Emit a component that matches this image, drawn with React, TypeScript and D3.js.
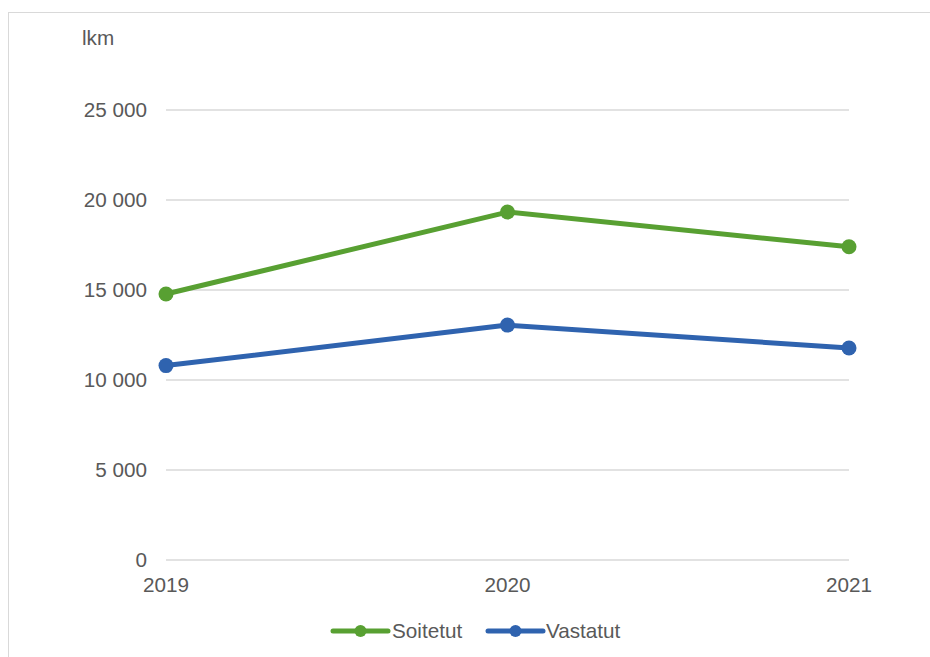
import React from "react";
import * as d3 from "d3";

const years = ["2019", "2020", "2021"];
const soitetut = [14780, 19330, 17400];
const vastatut = [10800, 13050, 11780];
const yTicks = [0, 5000, 10000, 15000, 20000, 25000];
const seriesNames = ["Soitetut", "Vastatut"];
const seriesColors = ["#58A032", "#2F63AF"];

const W = 930;
const H = 657;
const FONT = "'Liberation Sans', Arial, sans-serif";
const TEXT = "#595959";
const FS = 20.7;

export default function App() {
  const x = d3.scalePoint<string>().domain(years).range([166, 849]);
  const y = d3.scaleLinear().domain([0, 25000]).range([560, 110]);
  const line = d3
    .line<number>()
    .x((_, i) => x(years[i]) as number)
    .y((d) => y(d));
  const fmt = (v: number) => d3.format(",")(v).replace(/,/g, " ");
  const series = [soitetut, vastatut];
  const legendItems = [
    { x0: 333, x1: 388, tx: 392 },
    { x0: 488, x1: 543, tx: 546 },
  ];

  return (
    <svg
      width={W}
      height={H}
      style={{ position: "absolute", left: 0, top: 0 }}
      fontFamily={FONT}
    >
      <rect x={0} y={0} width={W} height={H} fill="#fff" />
      <rect
        x={8.5}
        y={12.5}
        width={W + 10}
        height={H + 10}
        fill="none"
        stroke="#D9D9D9"
        strokeWidth={1}
      />
      <text x={82} y={45} fontSize={FS} fill={TEXT}>
        lkm
      </text>
      {yTicks.map((t) => (
        <g key={t}>
          <line
            x1={166}
            x2={849}
            y1={y(t)}
            y2={y(t)}
            stroke="#D9D9D9"
            strokeWidth={1.5}
          />
          <text
            x={147}
            y={y(t)}
            dy="0.35em"
            textAnchor="end"
            fontSize={FS}
            fill={TEXT}
          >
            {fmt(t)}
          </text>
        </g>
      ))}
      {years.map((yr) => (
        <text
          key={yr}
          x={x(yr)}
          y={592}
          textAnchor="middle"
          fontSize={FS}
          fill={TEXT}
        >
          {yr}
        </text>
      ))}
      {series.map((s, si) => (
        <g key={si}>
          <path
            d={line(s) || ""}
            fill="none"
            stroke={seriesColors[si]}
            strokeWidth={5}
            strokeLinejoin="round"
            strokeLinecap="round"
          />
          {s.map((v, i) => (
            <circle
              key={i}
              cx={x(years[i])}
              cy={y(v)}
              r={7.5}
              fill={seriesColors[si]}
            />
          ))}
        </g>
      ))}
      {legendItems.map((li, i) => (
        <g key={i}>
          <line
            x1={li.x0}
            x2={li.x1}
            y1={631}
            y2={631}
            stroke={seriesColors[i]}
            strokeWidth={5}
            strokeLinecap="round"
          />
          <circle cx={(li.x0 + li.x1) / 2} cy={631} r={6} fill={seriesColors[i]} />
          <text x={li.tx} y={638} fontSize={FS} fill={TEXT}>
            {seriesNames[i]}
          </text>
        </g>
      ))}
    </svg>
  );
}
